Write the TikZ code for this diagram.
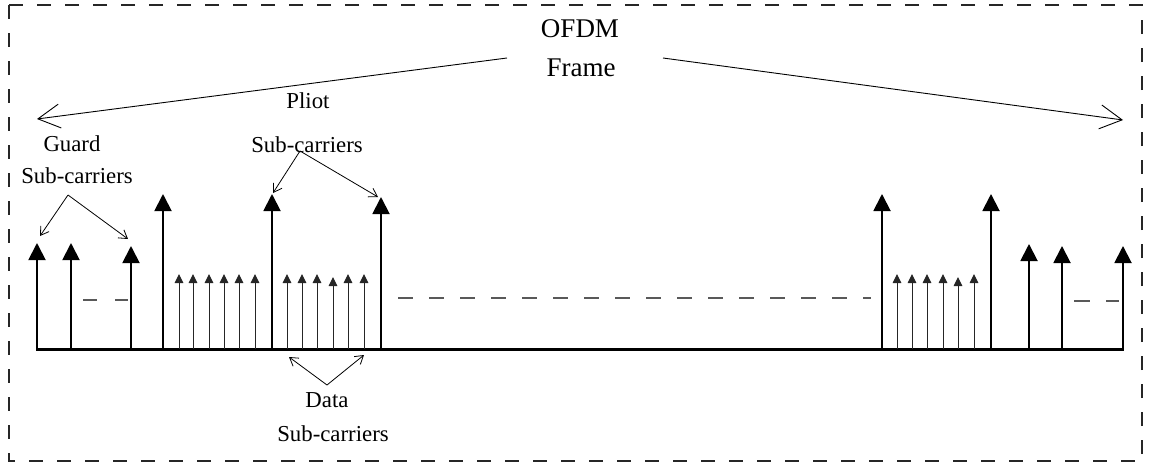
\documentclass[tikz,border=0pt]{standalone}
\usepackage{fontspec}
\setmainfont{Liberation Serif}
\usetikzlibrary{arrows.meta}
\begin{document}
\begin{tikzpicture}[x=1pt,y=-1pt,
  bigstem/.style={line width=1.9pt,-{Triangle[length=17pt,width=17pt]}},
  smallstem/.style={line width=1pt,draw=black!85,-{Triangle[length=9pt,width=8.5pt]}},
  pointer/.style={line width=0.8pt,-{Straight Barb[length=8pt,width=10pt,line width=0.8pt]}},
  framearrow/.style={line width=0.9pt,-{Straight Barb[length=22pt,width=24pt,line width=0.9pt]}},
  bigtxt/.style={anchor=base,inner sep=0pt,font=\fontsize{27}{30}\selectfont},
  lbl/.style={anchor=base,inner sep=0pt,font=\fontsize{22.8}{26}\selectfont},
  gapdash/.style={draw=black!65,line width=1.2pt},
  border/.style={line width=1.3pt,draw=black!85,dash pattern=on 14pt off 14pt}]
\useasboundingbox (0,0) rectangle (1154,466);
\draw[border] (9,5) rectangle (1142,461);

% texts
\node[bigtxt] (ofdm) at (580,37) {OFDM};
\node[bigtxt] (frame) at (581,76) {Frame};
\node[lbl] (guard) at (72,151) {Guard};
\node[lbl] (guardsc) at (77,183) {Sub-carriers};
\node[lbl] (pilot) at (308,108) {Pliot};
\node[lbl] (pilotsc) at (307,152) {Sub-carriers};
\node[lbl] (data) at (327,407) {Data};
\node[lbl] (datasc) at (333,441) {Sub-carriers};

% baseline
\coordinate (b0) at (36,349);
\coordinate (b1) at (1124,349);
\draw[line width=3pt] (b0) -- (b1);

% big stems
\foreach \x/\t in {37/243,71/243,131/246,163/194,272/194,381/197,882/194,991/194,1029/244,1062/246,1123/246}
  \draw[bigstem] (\x,349) -- (\x,\t);
% small stems
\foreach \x/\t in {179/274,193/274,209/274,224/274,239/274,255/274,287/274,302/274,317/274,333/277,348/274,364/274,897/274,912/274,927/274,943/274,958/277,974/274}
  \draw[smallstem] (\x,349) -- (\x,\t);

% gap dashes
\draw[gapdash] (83,300) -- (97,300) (115,300) -- (128,300);
\draw[gapdash] (1074,301) -- (1090,301) (1106,301) -- (1119,301);
\draw[gapdash,dash pattern=on 15pt off 16pt] (398,298) -- (871,298);

% frame arrows
\coordinate (fl) at (507,58);
\coordinate (fr) at (663,58);
\coordinate (fle) at (37,119);
\coordinate (fre) at (1123,120);
\draw[framearrow] (fl) -- (fle);
\draw[framearrow] (fr) -- (fre);

% guard pointers
\coordinate (gs) at (68,195);
\coordinate (g1) at (40,236);
\coordinate (g2) at (128,239);
\draw[pointer] (gs) -- (g1);
\draw[pointer] (gs) -- (g2);
% pilot pointers
\coordinate (ps) at (300,151);
\coordinate (p1) at (273,193);
\coordinate (p2) at (378,197);
\draw[pointer] (ps) -- (p1);
\draw[pointer] (ps) -- (p2);
% data pointers
\coordinate (ds) at (327,385);
\coordinate (d1) at (289,357);
\coordinate (d2) at (364,355);
\draw[pointer] (ds) -- (d1);
\draw[pointer] (ds) -- (d2);
\end{tikzpicture}
\end{document}
